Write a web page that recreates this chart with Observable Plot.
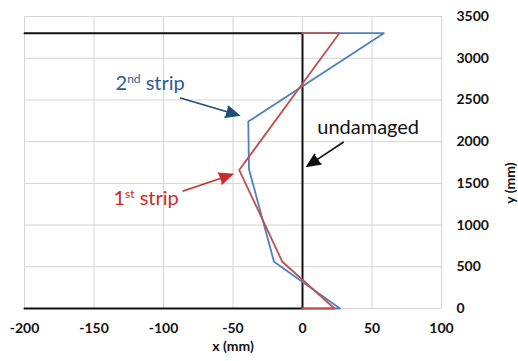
<!DOCTYPE html>
<html>
<head>
<meta charset="utf-8">
<script src="https://cdn.jsdelivr.net/npm/d3@7"></script>
<script src="https://cdn.jsdelivr.net/npm/@observablehq/plot@0.6"></script>
<style>
  html, body { margin: 0; padding: 0; background: #fff; }
</style>
</head>
<body>
<div id="chart"></div>
<script>
// Tick values (mm)
const xTicks = [-200, -150, -100, -50, 0, 50, 100];
const yTicks = [0, 500, 1000, 1500, 2000, 2500, 3000, 3500];

// Undamaged wall outline
const undamagedX = [-200, 0, 0, -200];
const undamagedY = [3300, 3300, 0, 0];

// Deformed shape after the 1st strip
const strip1X = [0, 26.5, -45.5, -14.5, 23, 0];
const strip1Y = [3300, 3300, 1660, 560, 0, 0];

// Deformed shape after the 2nd strip
const strip2X = [0, 58.5, -39, -38.5, -20.5, 27, 0];
const strip2Y = [3300, 3300, 2240, 1670, 560, 0, 0];

// Callout labels and their arrows (mm)
const noteText = ["2nd strip", "1st strip", "undamaged"];
const noteX = [-134.5, -136, 10.6];
const noteY = [2699, 1312, 2173];
const noteColor = ["#2b5c97", "#cc2a2a", "#111111"];
const arrowColor = ["#1f4e79", "#cc2a2a", "#111111"];
const arrowX1 = [-87.8, -85.8, 29.3];
const arrowY1 = [2523, 1407, 1993];
const arrowX2 = [-45.8, -50.6, 3.4];
const arrowY2 = [2316, 1607, 1706];

const toPoints = (xs, ys) => xs.map((x, i) => ({x, y: ys[i]}));
const undamaged = toPoints(undamagedX, undamagedY);
const strip1 = toPoints(strip1X, strip1Y);
const strip2 = toPoints(strip2X, strip2Y);
const notes = noteText.map((t, i) => ({t, x: noteX[i], y: noteY[i], c: noteColor[i]}));
const arrows = arrowX1.map((x1, i) => ({x1, y1: arrowY1[i], x2: arrowX2[i], y2: arrowY2[i], c: arrowColor[i]}));

const fmt = d => String(d);

const chart = Plot.plot({
  width: 518,
  height: 361,
  marginLeft: 24,
  marginRight: 77,
  marginTop: 16,
  marginBottom: 53,
  style: {fontFamily: "Lato, 'Open Sans', sans-serif", fontSize: "14px", fontWeight: "bold", color: "#111", background: "#fff"},
  x: {domain: [-200, 100], ticks: xTicks, tickFormat: fmt, tickSize: 0, tickPadding: 15, label: null},
  y: {domain: [0, 3500], ticks: yTicks, tickFormat: fmt, tickSize: 0, tickPadding: 15, label: null, axis: "right"},
  marks: [
    Plot.ruleX(xTicks, {stroke: "#d4d4d4", strokeWidth: 1}),
    Plot.ruleY(yTicks, {stroke: "#d4d4d4", strokeWidth: 1}),
    Plot.line(undamaged, {x: "x", y: "y", stroke: "#111", strokeWidth: 2}),
    Plot.line(strip2, {x: "x", y: "y", stroke: "#4f81bd", strokeWidth: 1.8}),
    Plot.line(strip1, {x: "x", y: "y", stroke: "#c0504d", strokeWidth: 1.8}),
    Plot.arrow(arrows, {x1: "x1", y1: "y1", x2: "x2", y2: "y2", stroke: "c", fill: "c",
      strokeWidth: 1.6, headLength: 13, headAngle: 48, strokeMiterlimit: 10}),
    Plot.text(notes, {x: "x", y: "y", text: "t", fill: "c", textAnchor: "start",
      fontSize: 20, fontWeight: "normal", className: "note"}),
    Plot.text(["x (mm)"], {frameAnchor: "bottom", dy: 42, text: d => d}),
    Plot.text(["y (mm)"], {frameAnchor: "right", dx: 69, rotate: -90, text: d => d})
  ]
});

// Ordinal suffixes on the strip labels are set as superscripts
d3.select(chart).selectAll("text").each(function () {
  const s = this.textContent;
  const m = /^(\d)(st|nd|rd|th)( .*)$/.exec(s);
  if (!m) return;
  const t = d3.select(this);
  t.text(m[1]);
  t.append("tspan").attr("font-size", 12).attr("dy", -7).text(m[2]);
  t.append("tspan").attr("font-size", 20).attr("dy", 7).text(m[3]);
});

document.getElementById("chart").appendChild(chart);
</script>
</body>
</html>
